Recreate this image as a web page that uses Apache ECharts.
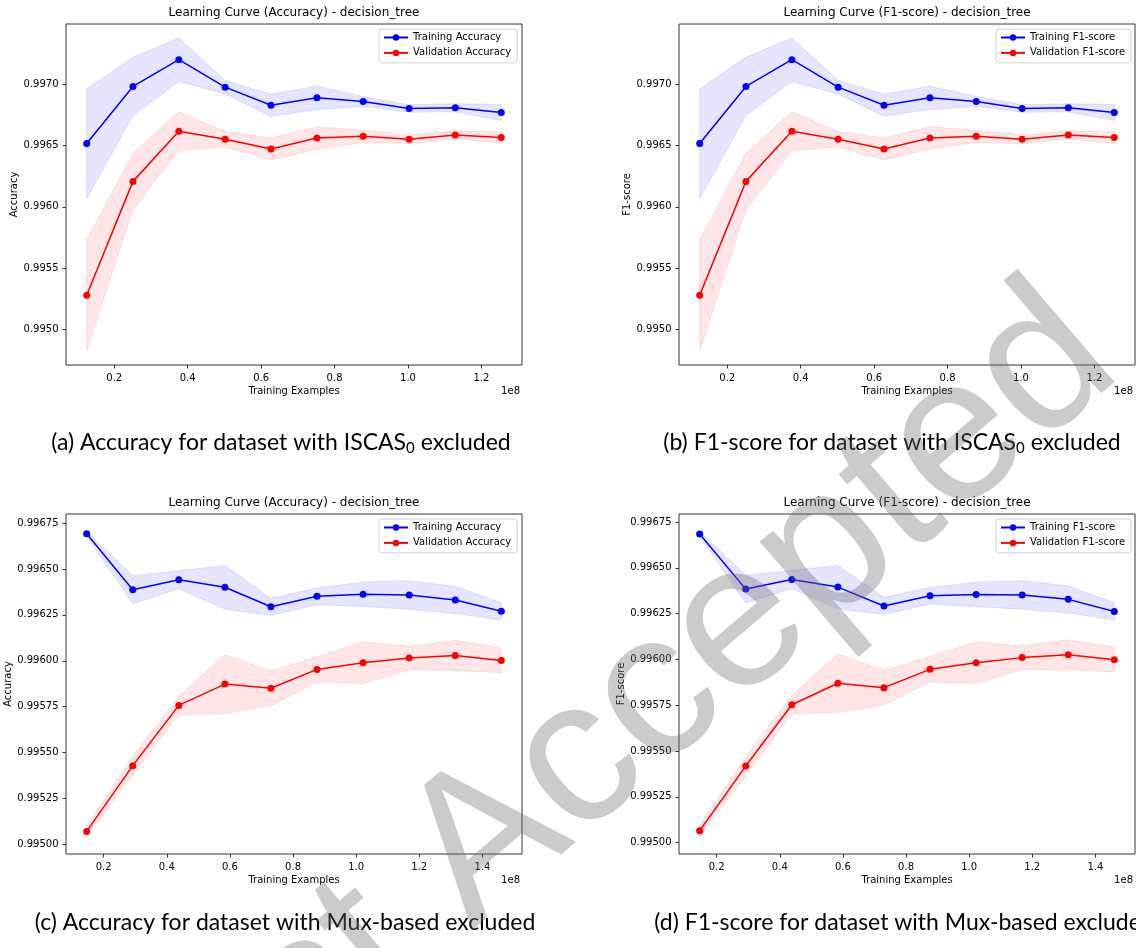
<!DOCTYPE html>
<html>
<head>
<meta charset="utf-8">
<title>Learning curves - decision_tree</title>
<script src="https://cdn.jsdelivr.net/npm/echarts@6/dist/echarts.min.js"></script>
<style>
  html, body { margin: 0; padding: 0; background: #fff; }
  #chart { width: 1136px; height: 948px; }
</style>
</head>
<body>
<div id="chart"></div>
<script>
// training set sizes, in units of 1e8 samples
const sizesIscas = [0.125, 0.251, 0.376, 0.502, 0.627, 0.752, 0.878, 1.003, 1.129, 1.254]
const sizesMux = [0.146, 0.292, 0.438, 0.584, 0.730, 0.876, 1.022, 1.168, 1.314, 1.460]

// (a) accuracy, ISCAS0 excluded
const trainAccIscas = [0.996515, 0.996981, 0.997199, 0.996975, 0.996828, 0.996888, 0.996858, 0.996801, 0.996807, 0.996768]
const trainAccIscasStd = [0.000447, 0.000237, 0.000177, 0.000055, 0.000090, 0.000095, 0.000041, 0.000030, 0.000033, 0.000065]
const valAccIscas = [0.995278, 0.996207, 0.996616, 0.996550, 0.996471, 0.996561, 0.996575, 0.996550, 0.996586, 0.996564]
const valAccIscasStd = [0.000452, 0.000229, 0.000158, 0.000063, 0.000090, 0.000090, 0.000049, 0.000035, 0.000033, 0.000046]

// (b) f1, ISCAS0 excluded
const trainF1Iscas = [0.996515, 0.996981, 0.997199, 0.996975, 0.996828, 0.996888, 0.996858, 0.996801, 0.996807, 0.996768]
const trainF1IscasStd = [0.000447, 0.000237, 0.000177, 0.000055, 0.000090, 0.000095, 0.000041, 0.000030, 0.000033, 0.000065]
const valF1Iscas = [0.995278, 0.996207, 0.996616, 0.996550, 0.996471, 0.996561, 0.996575, 0.996550, 0.996586, 0.996564]
const valF1IscasStd = [0.000452, 0.000229, 0.000158, 0.000063, 0.000090, 0.000090, 0.000049, 0.000035, 0.000033, 0.000046]

// (c) accuracy, Mux-based excluded
const trainAccMux = [0.996692, 0.996387, 0.996441, 0.996400, 0.996294, 0.996351, 0.996362, 0.996358, 0.996331, 0.996269]
const trainAccMuxStd = [0.000013, 0.000076, 0.000049, 0.000118, 0.000047, 0.000045, 0.000067, 0.000078, 0.000074, 0.000047]
const valAccMux = [0.995071, 0.995429, 0.995757, 0.995873, 0.995850, 0.995953, 0.995989, 0.996015, 0.996029, 0.996002]
const valAccMuxStd = [0.000031, 0.000051, 0.000051, 0.000160, 0.000094, 0.000069, 0.000113, 0.000064, 0.000082, 0.000067]

// (d) f1, Mux-based excluded
const trainF1Mux = [0.996685, 0.996384, 0.996437, 0.996395, 0.996292, 0.996348, 0.996355, 0.996352, 0.996328, 0.996262]
const trainF1MuxStd = [0.000013, 0.000076, 0.000049, 0.000118, 0.000047, 0.000045, 0.000067, 0.000078, 0.000074, 0.000047]
const valF1Mux = [0.995065, 0.995418, 0.995753, 0.995870, 0.995846, 0.995946, 0.995982, 0.996010, 0.996026, 0.995999]
const valF1MuxStd = [0.000031, 0.000051, 0.000051, 0.000160, 0.000094, 0.000069, 0.000113, 0.000064, 0.000082, 0.000067]

// tick labels
const xTicksIscas = [0.2, 0.4, 0.6, 0.8, 1.0, 1.2]
const xTicksMux = [0.2, 0.4, 0.6, 0.8, 1.0, 1.2, 1.4]
const yTicksIscas = [0.9950, 0.9955, 0.9960, 0.9965, 0.9970]
const yTicksMux = [0.99500, 0.99525, 0.99550, 0.99575, 0.99600, 0.99625, 0.99650, 0.99675]

const captions = [
  '(a) Accuracy for dataset with ISCAS{sub|0} excluded',
  '(b) F1-score for dataset with ISCAS{sub|0} excluded',
  '(c) Accuracy for dataset with Mux-based excluded',
  '(d) F1-score for dataset with Mux-based excluded'
]

const FONT = 'DejaVu Sans'
const BLUE = '#0000ff'
const RED = '#ff0000'

const panels = [
  { box: [66, 24, 456, 341], metric: 'Accuracy', xs: sizesIscas, xRange: [0.0686, 1.3105], yRange: [0.99471, 0.99749],
    xTicks: xTicksIscas, yTicks: yTicksIscas, digits: 4, nameGap: 47,
    train: trainAccIscas, trainStd: trainAccIscasStd, val: valAccIscas, valStd: valAccIscasStd,
    legendLeft: 379, caption: { x: 281, y: 443 } },
  { box: [679, 24, 456, 341], metric: 'F1-score', xs: sizesIscas, xRange: [0.0686, 1.3105], yRange: [0.99471, 0.99749],
    xTicks: xTicksIscas, yTicks: yTicksIscas, digits: 4, nameGap: 47,
    train: trainF1Iscas, trainStd: trainF1IscasStd, val: valF1Iscas, valStd: valF1IscasStd,
    legendLeft: 996, caption: { x: 892, y: 443 } },
  { box: [66, 514, 456, 340], metric: 'Accuracy', xs: sizesMux, xRange: [0.0805, 1.5255], yRange: [0.994948, 0.996799],
    xTicks: xTicksMux, yTicks: yTicksMux, digits: 5, nameGap: 53,
    train: trainAccMux, trainStd: trainAccMuxStd, val: valAccMux, valStd: valAccMuxStd,
    legendLeft: 379, caption: { x: 285, y: 923 } },
  { box: [679, 514, 456, 340], metric: 'F1-score', xs: sizesMux, xRange: [0.0805, 1.5255], yRange: [0.994938, 0.996794],
    xTicks: xTicksMux, yTicks: yTicksMux, digits: 5, nameGap: 53,
    train: trainF1Mux, trainStd: trainF1MuxStd, val: valF1Mux, valStd: valF1MuxStd,
    legendLeft: 996, caption: { x: 904, y: 923 } }
]

// shaded mean +/- std band, drawn as one polygon through the axis scales
function bandSeries (idx, xs, mean, std, fill, edge) {
  return {
    type: 'custom',
    name: 'band' + idx + fill,
    xAxisIndex: idx,
    yAxisIndex: idx,
    silent: true,
    z: 1,
    data: [[xs[0], mean[0]]],
    renderItem: function (params, api) {
      const pts = []
      for (let i = 0; i < xs.length; i++) pts.push(api.coord([xs[i], mean[i] + std[i]]))
      for (let i = xs.length - 1; i >= 0; i--) pts.push(api.coord([xs[i], mean[i] - std[i]]))
      return {
        type: 'polygon',
        shape: { points: pts },
        style: { fill: fill, stroke: edge, lineWidth: 1 }
      }
    }
  }
}

function lineSeries (idx, name, xs, ys, color) {
  return {
    type: 'line',
    name: name,
    xAxisIndex: idx,
    yAxisIndex: idx,
    data: xs.map((x, i) => [x, ys[i]]),
    symbol: 'circle',
    symbolSize: 7,
    showSymbol: true,
    z: 3,
    lineStyle: { color: color, width: 1.5 },
    itemStyle: { color: color }
  }
}

const grid = []
const xAxis = []
const yAxis = []
const series = []
const legend = []
const title = []
const graphic = []

panels.forEach((p, i) => {
  const [left, top, width, height] = p.box
  grid.push({ left, top, width, height, show: true, borderColor: '#333', borderWidth: 1, backgroundColor: 'transparent', containLabel: false, outerBoundsMode: 'none' })
  xAxis.push({
    gridIndex: i, type: 'value', min: p.xRange[0], max: p.xRange[1],
    name: 'Training Examples', nameLocation: 'middle', nameGap: 21.5,
    nameTextStyle: { fontSize: 10, color: '#000', fontFamily: FONT },
    axisLine: { show: false },
    splitLine: { show: false },
    axisTick: { show: true, length: 3.5, customValues: p.xTicks, lineStyle: { color: '#333', width: 1 } },
    axisLabel: { customValues: p.xTicks, margin: 8, fontSize: 10, color: '#000', fontFamily: FONT, formatter: v => v.toFixed(1) }
  })
  yAxis.push({
    gridIndex: i, type: 'value', min: p.yRange[0], max: p.yRange[1],
    name: p.metric, nameLocation: 'middle', nameGap: p.nameGap,
    nameTextStyle: { fontSize: 10, color: '#000', fontFamily: FONT },
    axisLine: { show: false },
    splitLine: { show: false },
    axisTick: { show: true, length: 3.5, customValues: p.yTicks, lineStyle: { color: '#333', width: 1 } },
    axisLabel: { customValues: p.yTicks, margin: 7.5, fontSize: 10, color: '#000', fontFamily: FONT, formatter: v => v.toFixed(p.digits) }
  })
  const trainName = 'Training ' + p.metric
  const valName = 'Validation ' + p.metric
  series.push(bandSeries(i, p.xs, p.train, p.trainStd, 'rgba(0,0,255,0.1)', 'rgba(0,0,255,0.1)'))
  series.push(bandSeries(i, p.xs, p.val, p.valStd, 'rgba(255,0,0,0.1)', 'rgba(255,0,0,0.1)'))
  series.push(lineSeries(i, trainName, p.xs, p.train, BLUE))
  series.push(lineSeries(i, valName, p.xs, p.val, RED))
  legend.push({
    data: [trainName, valName],
    left: p.legendLeft,
    top: top + 5,
    orient: 'vertical',
    itemWidth: 24,
    itemHeight: 8,
    itemGap: 3.4,
    padding: [2.5, 6, 4, 4],
    selectedMode: false,
    backgroundColor: 'rgba(255,255,255,0.8)',
    borderColor: '#d0d0d0',
    borderWidth: 1,
    borderRadius: 3,
    textStyle: { fontSize: 10, color: '#000', fontFamily: FONT, lineHeight: 12 }
  })
  title.push({
    text: 'Learning Curve (' + p.metric + ') - decision_tree',
    left: left + width / 2,
    top: top - 17,
    textAlign: 'center',
    padding: 0,
    textStyle: { fontSize: 12, fontWeight: 'normal', color: '#000', fontFamily: FONT }
  })
  graphic.push({
    type: 'text',
    x: left + width - 2,
    y: top + height + 26,
    style: { text: '1e8', fontSize: 10, fontFamily: FONT, fill: '#000', textAlign: 'right', textVerticalAlign: 'middle' }
  })
  graphic.push({
    type: 'text',
    x: p.caption.x,
    y: p.caption.y,
    style: {
      text: captions[i],
      fontSize: 23,
      fontFamily: 'Lato',
      fill: '#000',
      textAlign: 'center',
      textVerticalAlign: 'middle',
      lineHeight: 26,
      rich: {
        sub: { fontSize: 15, fontFamily: 'Lato', lineHeight: 13, verticalAlign: 'bottom', fill: '#000' }
      }
    }
  })
})

// diagonal manuscript watermark across the figure
graphic.push({
  type: 'text',
  x: 596,
  y: 750,
  rotation: 40.5 * Math.PI / 180,
  z: 100,
  silent: true,
  style: {
    text: 'Just Accepted',
    fontSize: 206,
    fontFamily: 'Liberation Sans',
    fill: 'rgba(110,110,110,0.36)',
    textAlign: 'center',
    textVerticalAlign: 'middle'
  }
})

const myChart = echarts.init(document.getElementById('chart'))
myChart.setOption({
  animation: false,
  backgroundColor: '#fff',
  textStyle: { fontFamily: FONT },
  title: title,
  legend: legend,
  grid: grid,
  xAxis: xAxis,
  yAxis: yAxis,
  series: series,
  graphic: graphic
})
</script>
</body>
</html>
